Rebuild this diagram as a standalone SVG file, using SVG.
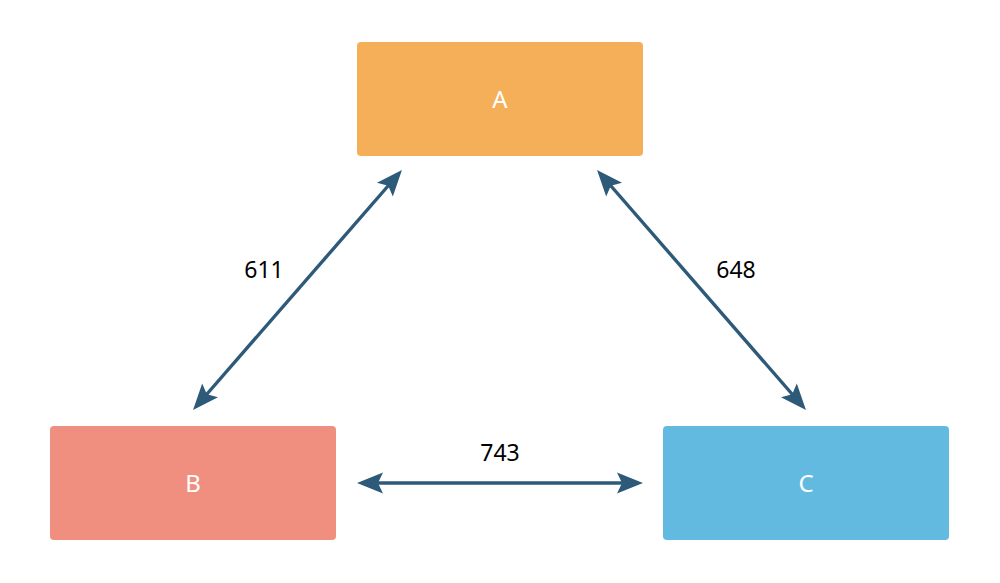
<svg xmlns="http://www.w3.org/2000/svg" width="1000" height="583" viewBox="0 0 1000 583">
<style>
.box text{font-family:"Source Sans Pro","Noto Sans",sans-serif;font-size:24px;fill:#ffffff;text-anchor:middle;}
.lbl{font-family:"Source Sans Pro","Noto Sans",sans-serif;font-size:23px;fill:#000000;text-anchor:middle;}
.edge{stroke:#2E5A7A;stroke-width:3.4;fill:none;marker-start:url(#ah);marker-end:url(#ah);}
</style>
<defs>
<marker id="ah" markerUnits="userSpaceOnUse" viewBox="-17 -11 28 22" refX="0" refY="0" markerWidth="28" markerHeight="22" orient="auto-start-reverse">
<path d="M-16,-10.5 L10,0 L-16,10.5 L-11,0 Z" fill="#2E5A7A"/>
</marker>
</defs>
<rect width="1000" height="583" fill="#ffffff"/>
<g id="A" class="box"><rect x="357" y="42" width="286" height="114" rx="4" fill="#F5AF58"/><text x="500" y="108">A</text></g>
<g id="B" class="box"><rect x="50" y="426" width="286" height="114" rx="4" fill="#F08E80"/><text x="193" y="492">B</text></g>
<g id="C" class="box"><rect x="663" y="426" width="286" height="114" rx="4" fill="#63BAE0"/><text x="806" y="492">C</text></g>
<g id="connectors">
<line class="edge" x1="395.4" y1="177.5" x2="199.6" y2="402.5"/>
<line class="edge" x1="603.6" y1="177.5" x2="799.4" y2="402.5"/>
<line class="edge" x1="367" y1="483" x2="633" y2="483"/>
<text class="lbl" x="264" y="278">611</text>
<text class="lbl" x="736" y="278">648</text>
<text class="lbl" x="500" y="461">743</text>
</g>
</svg>
